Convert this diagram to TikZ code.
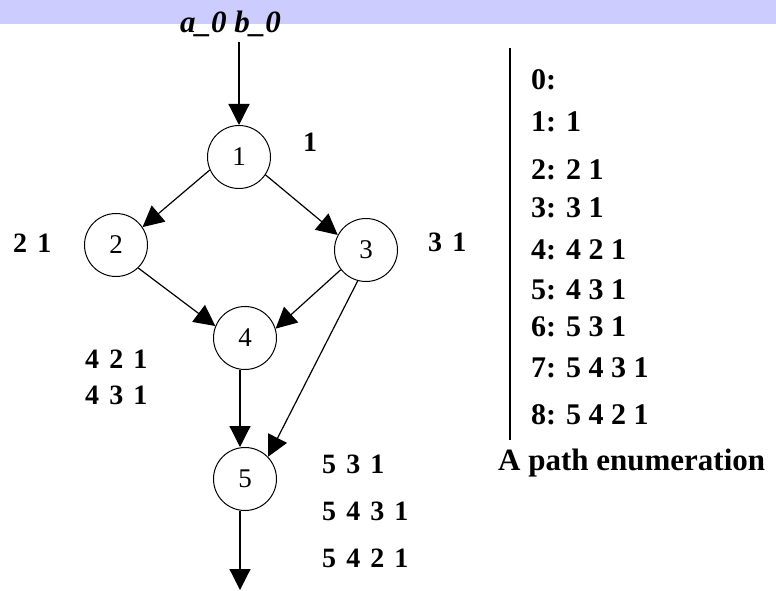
\documentclass[tikz,border=0pt]{standalone}
\usepackage{fontspec}
\setmainfont{Liberation Serif}
\usetikzlibrary{arrows.meta}
\definecolor{barcol}{HTML}{CCCCFF}
\newcommand{\labfont}{\fontsize{28}{30}\selectfont\bfseries\spaceskip=0.36em plus 0pt minus 0pt\relax}
\begin{document}
\begin{tikzpicture}[x=1pt,y=-1pt,
  vertex/.style={circle,draw,line width=1pt,minimum size=63pt,inner sep=0pt,
    font=\fontsize{27}{29}\selectfont},
  edge/.style={line width=1.2pt,-{Triangle[length=21pt,width=21pt]}},
  lab/.style={inner sep=0pt,anchor=west,font=\labfont},
  lst/.style={inner sep=0pt,anchor=west,font=\fontsize{30}{32}\selectfont\bfseries}]
\useasboundingbox (0,0) rectangle (776,591);
\fill[barcol] (0,0) rectangle (776,24);
\node[inner sep=0pt,anchor=base,font=\fontsize{31}{33}\selectfont\bfseries\itshape] (title) at (230.5,33) {a\_0 b\_0};
% graph nodes
\node[vertex] (n1) at (239,157) {1};
\node[vertex] (n2) at (116,245) {2};
\node[vertex] (n3) at (366,250) {3};
\node[vertex] (n4) at (245,338) {4};
\node[vertex] (n5) at (245,479) {5};
\coordinate (top) at (239,42);
\coordinate (bot) at (240,590);
% edges
\draw[edge] (top) -- (n1.north);
\draw[edge] (n1.204) -- (n2.34);
\draw[edge] (n1.326) -- (n3.152);
\draw[edge] (n2.314) -- (n4.158);
\draw[edge] (n3.218) -- (n4.17);
\draw[edge] (n3.255) -- (n5.44);
\draw[edge] ([xshift=-5pt]n4.south) -- ([xshift=-5pt]n5.north);
\draw[edge] ([xshift=-5pt]n5.south) -- (bot);
% node labels
\node[lab] (l1) at (303,142) {1};
\node[lab] (l2) at (13,243) {2 1};
\node[lab] (l3) at (428,242) {3 1};
\node[lab] (l4a) at (85,359) {4 2 1};
\node[lab] (l4b) at (85,395) {4 3 1};
\node[lab] (l5a) at (322,464) {5 3 1};
\node[lab] (l5b) at (322,511) {5 4 3 1};
\node[lab] (l5c) at (322,558) {5 4 2 1};
% enumeration list
\coordinate (vtop) at (510,48);
\coordinate (vbot) at (510,440);
\draw[line width=2pt] (vtop) -- (vbot);
\node[lst] (e0) at (531,80) {0:};
\node[lst] (e1) at (531,122) {1: 1};
\node[lst] (e2) at (531,170) {2: 2 1};
\node[lst] (e3) at (531,208) {3: 3 1};
\node[lst] (e4) at (531,250) {4: 4 2 1};
\node[lst] (e5) at (531,290) {5: 4 3 1};
\node[lst] (e6) at (531,327) {6: 5 3 1};
\node[lst] (e7) at (531,368) {7: 5 4 3 1};
\node[lst] (e8) at (531,415) {8: 5 4 2 1};
\node[inner sep=0pt,anchor=base west,font=\fontsize{31}{33}\selectfont\bfseries] (cap) at (498,470) {A path enumeration};
\end{tikzpicture}
\end{document}
